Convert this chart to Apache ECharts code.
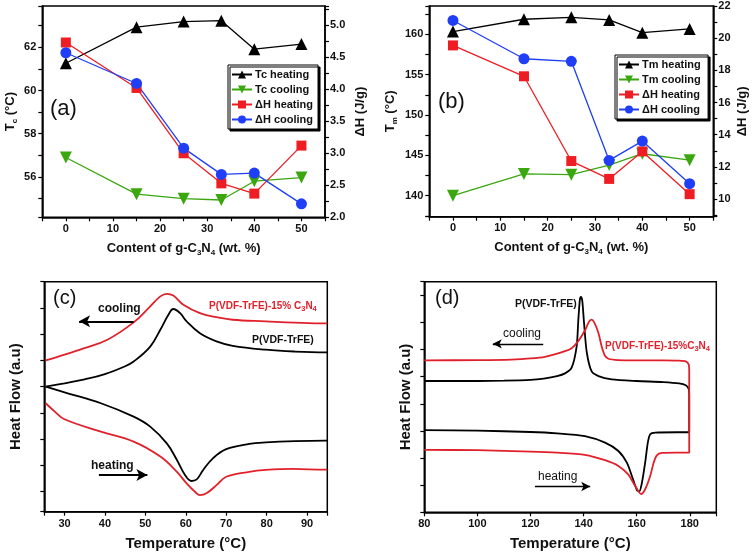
<!DOCTYPE html>
<html><head><meta charset="utf-8">
<script src="https://cdn.jsdelivr.net/npm/echarts@6/dist/echarts.min.js"></script>
<style>html,body{margin:0;padding:0;background:#fff}#c{width:756px;height:554px}</style>
</head><body><div id="c"></div><script>
// ---------- panel (a) / (b) data ----------
const content = [0, 15, 25, 33, 40, 50];
const tcHeating = [61.26, 62.93, 63.19, 63.23, 61.91, 62.15];
const tcCooling = [56.9, 55.2, 54.99, 54.93, 55.8, 55.97];
const dhHeatingA = [4.73, 4.02, 3.0, 2.53, 2.37, 3.12];
const dhCoolingA = [4.57, 4.09, 3.08, 2.67, 2.69, 2.21];
const tmHeating = [160.33, 161.86, 162.1, 161.78, 160.2, 160.66];
const tmCooling = [140.0, 142.7, 142.6, 143.8, 145.2, 144.4];
const dhHeatingB = [19.55, 17.63, 12.36, 11.25, 12.96, 10.3];
const dhCoolingB = [21.1, 18.72, 18.56, 12.4, 13.6, 10.95];
// ---------- panel (c) DSC curves ----------
const cBlackCoolT = [25.35, 30, 35, 40, 45, 47.1, 51.2, 53.7, 55.7, 56.9, 58.6, 60.2, 63.5, 67.6, 71.6, 79.8, 87, 94.5, 95];
const cBlackCoolV = [5.0, 5.13, 5.28, 5.48, 5.78, 5.96, 6.53, 7.17, 7.74, 7.96, 7.80, 7.49, 7.04, 6.73, 6.56, 6.41, 6.34, 6.31, 6.31];
const cRedCoolT = [25.35, 30, 34.9, 40.6, 47.1, 51.2, 53.7, 55.3, 56.9, 59.4, 63.5, 67.6, 71.6, 79.8, 87, 94.5, 95];
const cRedCoolV = [6.0, 6.22, 6.47, 6.79, 7.45, 8.06, 8.44, 8.54, 8.47, 8.12, 7.80, 7.65, 7.55, 7.49, 7.44, 7.41, 7.41];
const cBlackHeatT = [25.35, 30.8, 39.0, 47.1, 51.2, 55.3, 57.8, 59.8, 61.4, 62.7, 64.3, 66.7, 70.0, 75.7, 79.8, 87, 94.5, 95];
const cBlackHeatV = [5.0, 4.75, 4.37, 3.86, 3.48, 2.84, 2.21, 1.64, 1.41, 1.47, 1.83, 2.27, 2.62, 2.82, 2.88, 2.93, 2.95, 2.95];
const cRedHeatT = [25.35, 27.6, 30, 39, 47.1, 53.7, 57.8, 60.2, 62.2, 63.5, 65.1, 67.6, 70.0, 75.7, 79.8, 86.3, 94.5, 95];
const cRedHeatV = [4.37, 4.05, 3.76, 3.29, 2.91, 2.34, 1.76, 1.32, 1.01, 0.87, 0.94, 1.25, 1.57, 1.76, 1.83, 1.87, 1.84, 1.84];
// ---------- panel (d) DSC curves ----------
const dBlackHeatT = [80, 100, 120, 130, 140.5, 148.1, 153.1, 156.3, 158.2, 160.1, 161.0, 162.0, 163.2, 164.2, 165.1, 167, 175, 179.8];
const dBlackHeatV = [3.03, 3.01, 2.96, 2.91, 2.81, 2.57, 2.26, 1.83, 1.34, 0.82, 0.77, 1.10, 1.83, 2.57, 2.88, 2.94, 2.95, 2.95];
const dBlackCoolT = [179.8, 179.6, 178.5, 176, 170, 160, 150.6, 145.6, 143, 141.2, 140.2, 139.5, 139, 138.6, 138, 137.4, 135.5, 133, 130, 125, 120, 110, 100, 80];
const dBlackCoolV = [4.3, 4.55, 4.68, 4.75, 4.80, 4.84, 4.90, 5.02, 5.20, 5.90, 6.95, 7.80, 7.94, 7.84, 7.05, 6.12, 5.33, 5.12, 5.02, 4.93, 4.88, 4.85, 4.84, 4.84];
const dRedHeatT = [80, 100, 120, 130, 140.5, 148.1, 153.1, 156.8, 159.4, 161.7, 163.2, 165.1, 166.4, 167.6, 169.5, 175, 179.8];
const dRedHeatV = [2.30, 2.29, 2.24, 2.20, 2.12, 1.92, 1.71, 1.40, 0.98, 0.67, 0.85, 1.34, 1.83, 2.10, 2.19, 2.20, 2.20];
const dRedCoolT = [179.8, 179.6, 178.5, 176, 170, 160, 153, 149.4, 148, 146.8, 145.6, 144, 143, 142, 140.5, 138, 135.5, 133, 125.4, 120, 112.8, 100, 80];
const dRedCoolV = [5.2, 5.45, 5.56, 5.59, 5.60, 5.60, 5.61, 5.66, 5.78, 6.12, 6.61, 7.0, 7.10, 7.02, 6.70, 6.31, 6.05, 5.94, 5.73, 5.67, 5.63, 5.61, 5.60];

const zip = (xs, ys) => xs.map((x, i) => [x, ys[i]]);

const FONT = '"Liberation Sans", Arial, sans-serif';
const BLACK = '#000', RED = '#ee1d24', BLUE = '#1f3ef5', GREEN = '#3aa70f', CRED = '#e0212b';
const axisLine = {show: true, onZero: false, lineStyle: {color: '#000', width: 1.5}};
const axisTick = {show: true, inside: false, length: 4, lineStyle: {color: '#000', width: 1.2}};
const lbl = {color: '#111', fontFamily: FONT, fontWeight: 'bold', fontSize: 11};
const rich = {
  r: {fontFamily: FONT, fontWeight: 'bold', fontSize: 13, lineHeight: 16, color: '#111'},
  s: {fontFamily: FONT, fontWeight: 'bold', fontSize: 8, lineHeight: 8, verticalAlign: 'bottom', color: '#111'}
};
const nameStyle = {fontFamily: FONT, fontWeight: 'bold', fontSize: 13, color: '#111', rich: rich};
const near = (v, k) => Math.abs(v / k - Math.round(v / k)) < 1e-6;
const gridBase = {show: true, borderColor: '#000', borderWidth: 1.5, backgroundColor: 'transparent', containLabel: false};
const bigName = {fontFamily: FONT, fontWeight: 'bold', fontSize: 15, color: '#111'};
const legendBase = {orient: 'vertical', itemWidth: 20, itemHeight: 10, padding: [4, 5, 4, 3], backgroundColor: '#fff', borderColor: '#000', borderWidth: 1,
  shadowColor: '#000', shadowOffsetX: 2, shadowOffsetY: 2, shadowBlur: 0, selectedMode: false,
  textStyle: {fontFamily: FONT, fontWeight: 'bold', fontSize: 11, color: '#111', padding: [0, 0, 0, -2]}};
const subRich = (color) => ({r: {font: 'bold 10px "Liberation Sans", Arial', fill: color, lineHeight: 13},
  s: {font: 'bold 7.5px "Liberation Sans", Arial', fill: color, lineHeight: 7, verticalAlign: 'bottom'}});

const option = {
  animation: false,
  backgroundColor: '#fff',
  grid: [
    Object.assign({left: 42.3, top: 6, width: 282.7, height: 211.3}, gridBase),
    Object.assign({left: 429.3, top: 6, width: 284, height: 210.7}, gridBase),
    Object.assign({left: 44.3, top: 281.7, width: 283, height: 230}, gridBase),
    Object.assign({left: 424.3, top: 281.7, width: 292, height: 230.6}, gridBase)
  ],
  xAxis: [
    {gridIndex: 0, type: 'value', min: -5, max: 55, interval: 5, axisLine, axisTick, splitLine: {show: false},
      axisLabel: Object.assign({margin: 6, formatter: v => (near(v, 10) && v >= 0 && v <= 50) ? String(v) : ''}, lbl),
      name: '{r|Content of g-C}{s|3}{r|N}{s|4}{r| (wt. %)}', nameLocation: 'middle', nameGap: 23, nameTextStyle: nameStyle},
    {gridIndex: 1, type: 'value', min: -5, max: 55, interval: 5, axisLine, axisTick, splitLine: {show: false},
      axisLabel: Object.assign({margin: 6, formatter: v => (near(v, 10) && v >= 0 && v <= 50) ? String(v) : ''}, lbl),
      name: '{r|Content of g-C}{s|3}{r|N}{s|4}{r| (wt. %)}', nameLocation: 'middle', nameGap: 23, nameTextStyle: nameStyle},
    {gridIndex: 2, type: 'value', min: 25, max: 95, minInterval: 10, maxInterval: 10, axisLine, axisTick, splitLine: {show: false},
      axisLabel: Object.assign({margin: 7, formatter: v => (near(v, 10)) ? String(v) : ''}, lbl),
      name: 'Temperature (°C)', nameLocation: 'middle', nameGap: 25, nameTextStyle: bigName},
    {gridIndex: 3, type: 'value', min: 80, max: 190, interval: 20, axisLine, axisTick, splitLine: {show: false},
      axisLabel: Object.assign({margin: 6, formatter: v => (near(v, 20) && v <= 180) ? String(v) : ''}, lbl),
      name: 'Temperature (°C)', nameLocation: 'middle', nameGap: 24, nameTextStyle: bigName}
  ],
  yAxis: [
    {gridIndex: 0, type: 'value', min: 54.13, max: 63.91, minInterval: 1, maxInterval: 1, splitNumber: 10, axisLine, axisTick, splitLine: {show: false},
      axisLabel: Object.assign({margin: 6, formatter: v => (near(v, 2)) ? String(Math.round(v)) : ''}, lbl),
      name: '{r|T}{s|c}{r| (°C)}', nameLocation: 'middle', nameRotate: 90, nameGap: 24, nameTextStyle: nameStyle},
    {gridIndex: 0, type: 'value', position: 'right', min: 2, max: 5.3, interval: 0.25, axisLine, axisTick, splitLine: {show: false},
      axisLabel: Object.assign({margin: 5, formatter: v => (near(v, 0.5) && v < 5.2) ? v.toFixed(1) : ''}, lbl),
      name: 'ΔH (J/g)', nameLocation: 'middle', nameRotate: 90, nameGap: 29, nameTextStyle: nameStyle},
    {gridIndex: 1, type: 'value', min: 137.4, max: 163.5, minInterval: 2.5, maxInterval: 2.5, splitNumber: 10, axisLine, axisTick, splitLine: {show: false},
      axisLabel: Object.assign({margin: 6, formatter: v => (near(v, 5)) ? String(Math.round(v)) : ''}, lbl),
      name: '{r|T}{s|m}{r| (°C)}', nameLocation: 'middle', nameRotate: 90, nameGap: 31, nameTextStyle: nameStyle},
    {gridIndex: 1, type: 'value', position: 'right', min: 8.9, max: 22, minInterval: 1, maxInterval: 1, splitNumber: 13, axisLine, axisTick, splitLine: {show: false},
      axisLabel: Object.assign({margin: 5, formatter: v => (near(v, 2) && v >= 10) ? String(Math.round(v)) : ''}, lbl),
      name: 'ΔH (J/g)', nameLocation: 'middle', nameRotate: 90, nameGap: 23, nameTextStyle: nameStyle},
    {gridIndex: 2, type: 'value', min: 0.24, max: 9, minInterval: 1, maxInterval: 1, splitNumber: 9, axisLine, axisTick, splitLine: {show: false},
      axisLabel: {show: false},
      name: 'Heat Flow (a.u)', nameLocation: 'middle', nameRotate: 90, nameGap: 21, nameTextStyle: bigName},
    {gridIndex: 3, type: 'value', min: 0, max: 8.5, interval: 1, axisLine, axisTick, splitLine: {show: false},
      axisLabel: {show: false},
      name: 'Heat Flow (a.u)', nameLocation: 'middle', nameRotate: 90, nameGap: 11, nameTextStyle: bigName}
  ],
  legend: [
    Object.assign({data: ['Tc heating', 'Tc cooling', 'ΔH heating', 'ΔH cooling'], left: 228, top: 65, itemGap: 4}, legendBase),
    Object.assign({data: ['Tm heating', 'Tm cooling', 'ΔH heating ', 'ΔH cooling '], left: 615, top: 55, itemGap: 4}, legendBase)
  ],
  series: [
    {type: 'line', name: 'Tc heating', xAxisIndex: 0, yAxisIndex: 0, data: zip(content, tcHeating), symbol: 'triangle', symbolSize: 12,
      itemStyle: {color: BLACK}, lineStyle: {color: BLACK, width: 1.3}},
    {type: 'line', name: 'Tc cooling', xAxisIndex: 0, yAxisIndex: 0, data: zip(content, tcCooling), symbol: 'triangle', symbolRotate: 180, symbolSize: 12,
      itemStyle: {color: GREEN}, lineStyle: {color: GREEN, width: 1.3}},
    {type: 'line', name: 'ΔH heating', xAxisIndex: 0, yAxisIndex: 1, data: zip(content, dhHeatingA), symbol: 'rect', symbolSize: 10,
      itemStyle: {color: RED}, lineStyle: {color: RED, width: 1.3}},
    {type: 'line', name: 'ΔH cooling', xAxisIndex: 0, yAxisIndex: 1, data: zip(content, dhCoolingA), symbol: 'circle', symbolSize: 11,
      itemStyle: {color: BLUE}, lineStyle: {color: BLUE, width: 1.3}},
    {type: 'line', name: 'Tm heating', xAxisIndex: 1, yAxisIndex: 2, data: zip(content, tmHeating), symbol: 'triangle', symbolSize: 12,
      itemStyle: {color: BLACK}, lineStyle: {color: BLACK, width: 1.3}},
    {type: 'line', name: 'Tm cooling', xAxisIndex: 1, yAxisIndex: 2, data: zip(content, tmCooling), symbol: 'triangle', symbolRotate: 180, symbolSize: 12,
      itemStyle: {color: GREEN}, lineStyle: {color: GREEN, width: 1.3}},
    {type: 'line', name: 'ΔH heating ', xAxisIndex: 1, yAxisIndex: 3, data: zip(content, dhHeatingB), symbol: 'rect', symbolSize: 10,
      itemStyle: {color: RED}, lineStyle: {color: RED, width: 1.3}},
    {type: 'line', name: 'ΔH cooling ', xAxisIndex: 1, yAxisIndex: 3, data: zip(content, dhCoolingB), symbol: 'circle', symbolSize: 11,
      itemStyle: {color: BLUE}, lineStyle: {color: BLUE, width: 1.3}},
    // (c)
    {type: 'line', name: 'c-red-cool', xAxisIndex: 2, yAxisIndex: 4, data: zip(cRedCoolT, cRedCoolV), showSymbol: false, smooth: 0.4,
      lineStyle: {color: CRED, width: 1.8}, itemStyle: {color: CRED},
      markLine: {silent: true, symbol: ['none', 'arrow'], symbolSize: [9, 11], label: {show: false}, lineStyle: {color: '#000', width: 2.2, type: 'solid'},
        data: [[{coord: [47.1, 7.49]}, {coord: [33.6, 7.49]}], [{coord: [38.5, 1.64]}, {coord: [50.5, 1.64]}]]}},
    {type: 'line', name: 'c-black-cool', xAxisIndex: 2, yAxisIndex: 4, data: zip(cBlackCoolT, cBlackCoolV), showSymbol: false, smooth: 0.4,
      lineStyle: {color: BLACK, width: 1.8}, itemStyle: {color: BLACK}},
    {type: 'line', name: 'c-black-heat', xAxisIndex: 2, yAxisIndex: 4, data: zip(cBlackHeatT, cBlackHeatV), showSymbol: false, smooth: 0.4,
      lineStyle: {color: BLACK, width: 1.8}, itemStyle: {color: BLACK}},
    {type: 'line', name: 'c-red-heat', xAxisIndex: 2, yAxisIndex: 4, data: zip(cRedHeatT, cRedHeatV), showSymbol: false, smooth: 0.4,
      lineStyle: {color: CRED, width: 1.8}, itemStyle: {color: CRED}},
    // (d)
    {type: 'line', name: 'd-black', xAxisIndex: 3, yAxisIndex: 5, data: zip(dBlackHeatT, dBlackHeatV).concat(zip(dBlackCoolT, dBlackCoolV)),
      showSymbol: false, smooth: 0.25, lineStyle: {color: BLACK, width: 1.8}, itemStyle: {color: BLACK},
      markLine: {silent: true, symbol: ['none', 'arrow'], symbolSize: [7, 9], label: {show: false}, lineStyle: {color: '#000', width: 1.4, type: 'solid'},
        data: [[{coord: [124.8, 6.21]}, {coord: [105.8, 6.21]}], [{coord: [121.7, 0.95]}, {coord: [142.5, 0.95]}]]}},
    {type: 'line', name: 'd-red', xAxisIndex: 3, yAxisIndex: 5, data: zip(dRedHeatT, dRedHeatV).concat(zip(dRedCoolT, dRedCoolV)),
      showSymbol: false, smooth: 0.25, lineStyle: {color: CRED, width: 1.8}, itemStyle: {color: CRED}}
  ],
  graphic: [
    {type: 'text', left: 50, top: 98, style: {text: '(a)', font: '22px "Liberation Sans", Arial', fill: '#111'}},
    {type: 'text', left: 438, top: 91, style: {text: '(b)', font: '22px "Liberation Sans", Arial', fill: '#111'}},
    {type: 'text', left: 53, top: 288, style: {text: '(c)', font: '20px "Liberation Sans", Arial', fill: '#111'}},
    {type: 'text', left: 435, top: 288, style: {text: '(d)', font: '20px "Liberation Sans", Arial', fill: '#111'}},
    {type: 'text', left: 98, top: 303, style: {text: 'cooling', font: 'bold 12px "Liberation Sans", Arial', fill: '#111'}},
    {type: 'text', left: 91, top: 460, style: {text: 'heating', font: 'bold 12px "Liberation Sans", Arial', fill: '#111'}},
    {type: 'text', left: 209, top: 301, style: {text: '{r|P(VDF-TrFE)-15% C}{s|3}{r|N}{s|4}', rich: subRich(CRED)}},
    {type: 'text', left: 252, top: 335, style: {text: 'P(VDF-TrFE)', font: 'bold 10.5px "Liberation Sans", Arial', fill: '#111'}},
    {type: 'text', left: 515, top: 299, style: {text: 'P(VDF-TrFE)', font: 'bold 10.5px "Liberation Sans", Arial', fill: '#111'}},
    {type: 'text', left: 503, top: 328, style: {text: 'cooling', font: '12px "Liberation Sans", Arial', fill: '#111'}},
    {type: 'text', left: 538, top: 471, style: {text: 'heating', font: '12px "Liberation Sans", Arial', fill: '#111'}},
    {type: 'text', left: 605, top: 341, style: {text: '{r|P(VDF-TrFE)-15%C}{s|3}{r|N}{s|4}', rich: subRich(CRED)}}
  ]
};
const chart = echarts.init(document.getElementById('c'));
chart.setOption(option);
</script></body></html>
